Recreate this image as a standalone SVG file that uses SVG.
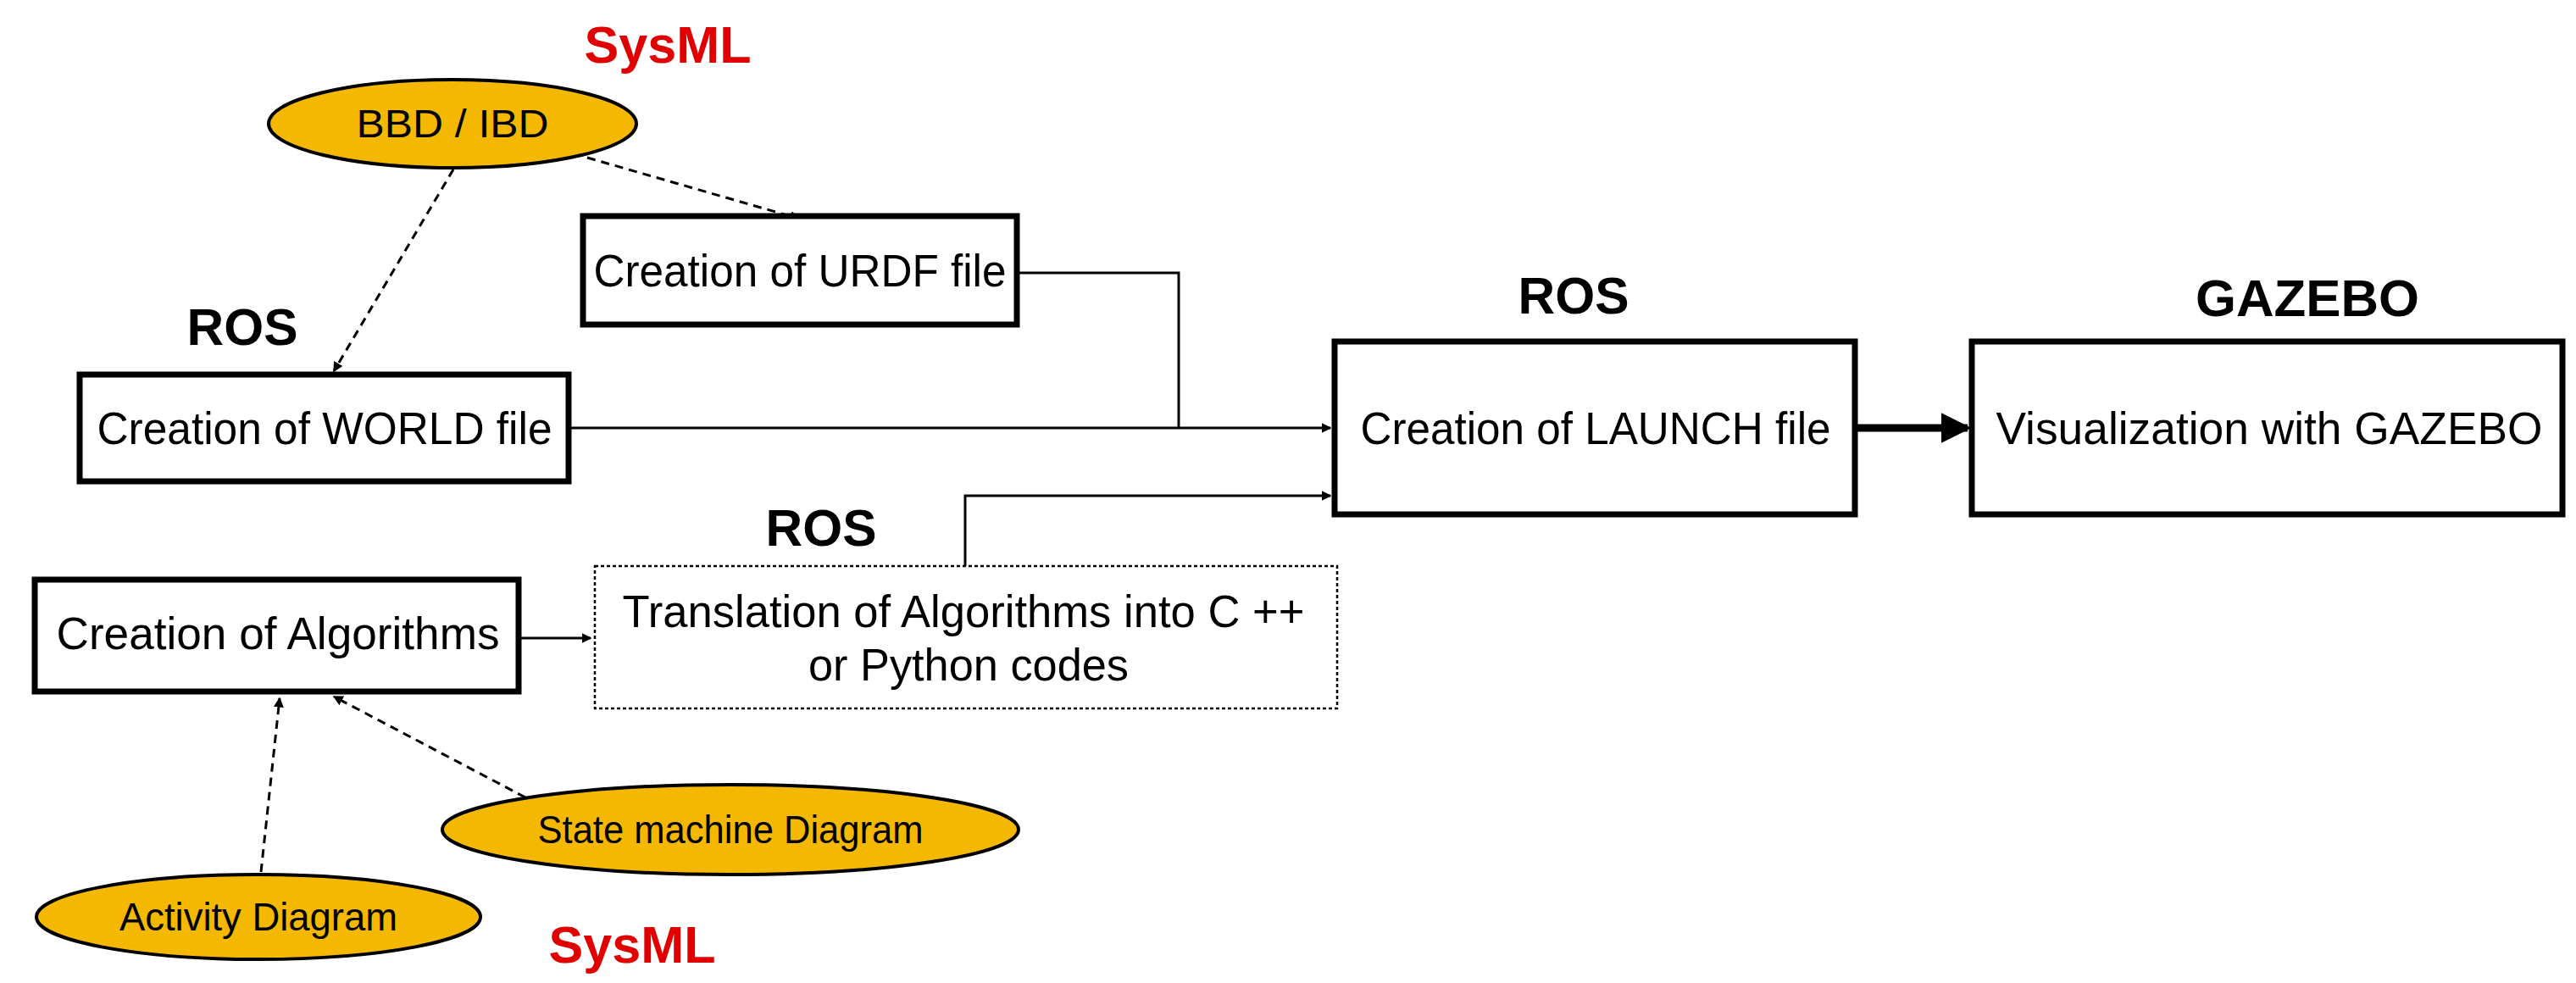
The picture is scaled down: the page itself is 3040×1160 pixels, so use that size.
<svg xmlns="http://www.w3.org/2000/svg" width="3040" height="1160" viewBox="0 0 3040 1160">
<style>
text{font-family:"Liberation Sans",Arial,sans-serif;text-anchor:middle;fill:#000}
.box{fill:#fff;stroke:#000;stroke-width:7}
.dbox{fill:#fff;stroke:#000;stroke-width:2.5;stroke-dasharray:4 3}
.ell{fill:#f5b800;stroke:#000;stroke-width:4}
.t{font-size:54px}
.e{font-size:46px}
.lbl{font-size:62px;font-weight:bold}
.red{fill:#e00000}
.ln{fill:none;stroke:#000;stroke-width:3}
.dl{fill:none;stroke:#000;stroke-width:3;stroke-dasharray:10 7}
</style>
<defs>
<marker id="a" markerWidth="8" markerHeight="8" refX="7" refY="4" orient="auto" markerUnits="strokeWidth"><path d="M0,0 L8,4 L0,8 z"/></marker>
<marker id="b" markerWidth="4" markerHeight="4" refX="3.5" refY="2" orient="auto" markerUnits="strokeWidth"><path d="M0,0 L4,2 L0,4 z"/></marker>
</defs>
<g id="labels">
<text class="lbl red" x="788" y="74" textLength="197" lengthAdjust="spacingAndGlyphs">SysML</text>
<text class="lbl" x="286" y="407" textLength="131" lengthAdjust="spacingAndGlyphs">ROS</text>
<text class="lbl" x="969" y="644" textLength="131" lengthAdjust="spacingAndGlyphs">ROS</text>
<text class="lbl" x="1857" y="370" textLength="131" lengthAdjust="spacingAndGlyphs">ROS</text>
<text class="lbl" x="2723" y="373" textLength="264" lengthAdjust="spacingAndGlyphs">GAZEBO</text>
<text class="lbl red" x="746" y="1136" textLength="197" lengthAdjust="spacingAndGlyphs">SysML</text>
</g>
<g id="connectors">
<path class="ln" d="M671,505 H1570" marker-end="url(#b)"/>
<path class="ln" d="M1200,322 H1391 V505"/>
<path class="ln" d="M1139,668 V585 H1570" marker-end="url(#b)"/>
<path class="ln" d="M612,753 H697" marker-end="url(#b)"/>
<path d="M2189,505 H2322" fill="none" stroke="#000" stroke-width="9" marker-end="url(#b)"/>
<path class="dl" d="M535,200 L394,438" marker-end="url(#b)"/>
<path class="dl" d="M693,186 L943,258" marker-end="url(#b)"/>
<path class="dl" d="M308,1029 L330,824" marker-end="url(#b)"/>
<path class="dl" d="M620,941 L394,822" marker-end="url(#b)"/>
</g>
<g id="bbd"><ellipse class="ell" cx="534" cy="146" rx="217" ry="52"/><text class="e" x="534" y="162" textLength="227" lengthAdjust="spacingAndGlyphs">BBD / IBD</text></g>
<g id="urdf"><rect class="box" x="688" y="255" width="512" height="128"/><text class="t" x="944" y="338" textLength="487" lengthAdjust="spacingAndGlyphs">Creation of URDF file</text></g>
<g id="world"><rect class="box" x="94" y="442" width="577" height="126"/><text class="t" x="383" y="524" textLength="537" lengthAdjust="spacingAndGlyphs">Creation of WORLD file</text></g>
<g id="launch"><rect class="box" x="1575" y="403" width="614" height="204"/><text class="t" x="1883" y="524" textLength="555" lengthAdjust="spacingAndGlyphs">Creation of LAUNCH file</text></g>
<g id="gazebo"><rect class="box" x="2327" y="403" width="697" height="204"/><text class="t" x="2678" y="524" textLength="645" lengthAdjust="spacingAndGlyphs">Visualization  with GAZEBO</text></g>
<g id="algorithms"><rect class="box" x="41" y="684" width="571" height="132"/><text class="t" x="328" y="766" textLength="523" lengthAdjust="spacingAndGlyphs">Creation of Algorithms</text></g>
<g id="translation"><rect class="dbox" x="702" y="668" width="876" height="168"/><text class="t" x="1137" y="740" textLength="805" lengthAdjust="spacingAndGlyphs">Translation of Algorithms into C ++</text><text class="t" x="1143" y="803" textLength="378" lengthAdjust="spacingAndGlyphs">or Python codes</text></g>
<g id="state"><ellipse class="ell" cx="862" cy="979" rx="340" ry="53"/><text class="e" x="862" y="995" textLength="455" lengthAdjust="spacingAndGlyphs">State machine Diagram</text></g>
<g id="activity"><ellipse class="ell" cx="305" cy="1082" rx="262" ry="50"/><text class="e" x="305" y="1098" textLength="328" lengthAdjust="spacingAndGlyphs">Activity Diagram</text></g>
</svg>
